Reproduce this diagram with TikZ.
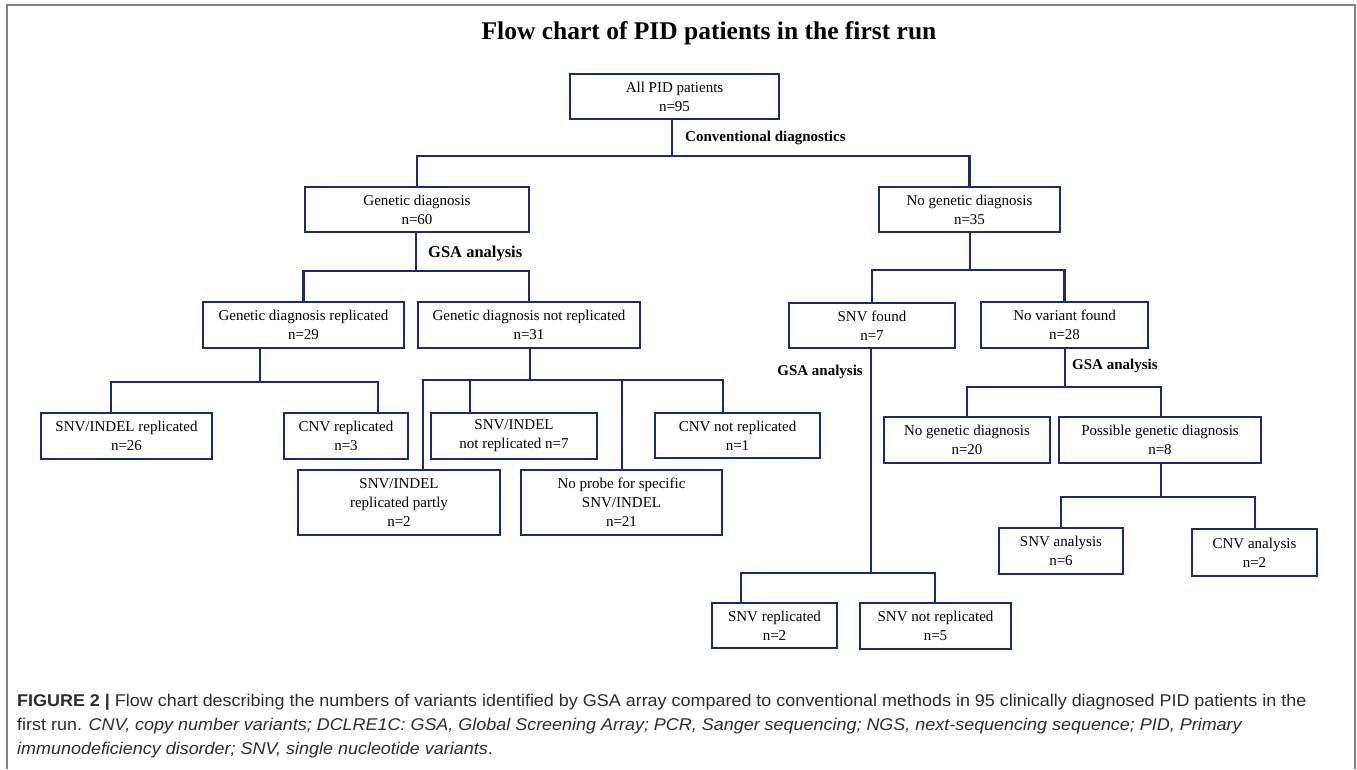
\documentclass[tikz,border=0pt]{standalone}
\usepackage{fontspec}
\setmainfont{Liberation Serif}
\newfontfamily\capfont[FakeStretch=1.056]{Liberation Sans}
\definecolor{navy}{RGB}{28,44,100}
\definecolor{framegray}{RGB}{130,130,130}
\definecolor{capgray}{RGB}{45,45,45}
\begin{document}
\begin{tikzpicture}[x=1pt,y=-1pt,
  box/.style={draw=navy, line width=2.7pt, align=center, inner sep=0pt, text=black,
    font=\fontsize{15}{19}\selectfont},
  conn/.style={draw=navy, line width=2.7pt, line join=miter},
  lbl/.style={font=\bfseries\fontsize{15}{18}\selectfont, inner sep=0pt, text=black},
  captxt/.style={anchor=base west, inner sep=0pt, text=capgray, font=\capfont\fontsize{17}{20}\selectfont}]
\useasboundingbox (0,0) rectangle (1357,769);
\fill[white] (0,0) rectangle (1357,769);
\draw[framegray, line width=1.5pt] (7,769) -- (7,5) -- (1355,5) -- (1355,769);

% title
\node[font=\bfseries\fontsize{25.5}{30}\selectfont, inner sep=0pt] (title) at (709,33) {Flow chart of PID patients in the first run};

% boxes
\node[box, minimum width=209pt, minimum height=45pt] (all) at (674.5,96.5) {All PID patients\\n=95};
\node[box, minimum width=224pt, minimum height=45pt] (gd) at (417,209.5) {Genetic diagnosis\\n=60};
\node[box, minimum width=181pt, minimum height=45pt] (ngd) at (969.5,209.5) {No genetic diagnosis\\n=35};
\node[box, minimum width=201pt, minimum height=46pt] (gdr) at (303.5,325) {Genetic diagnosis replicated\\n=29};
\node[box, minimum width=222pt, minimum height=46pt] (gdnr) at (529,325) {Genetic diagnosis not replicated\\n=31};
\node[box, minimum width=166pt, minimum height=45pt] (snvf) at (872,325.5) {SNV found\\n=7};
\node[box, minimum width=167pt, minimum height=46pt] (nvf) at (1064.5,325) {No variant found\\n=28};
\node[box, minimum width=171pt, minimum height=46pt] (sir) at (126.5,436) {SNV/INDEL replicated\\n=26};
\node[box, minimum width=124pt, minimum height=46pt] (cnvr) at (346,436) {CNV replicated\\n=3};
\node[box, minimum width=166pt, minimum height=46pt] (sinr) at (514,436) {SNV/INDEL\\not replicated n=7};
\node[box, minimum width=165pt, minimum height=45pt] (cnvnr) at (737.5,435.5) {CNV not replicated\\n=1};
\node[box, minimum width=202pt, minimum height=65pt] (sirp) at (399,502.5) {SNV/INDEL\\replicated partly\\n=2};
\node[box, minimum width=201pt, minimum height=65pt] (nop) at (621.5,502.5) {No probe for specific\\SNV/INDEL\\n=21};
\node[box, minimum width=166pt, minimum height=46pt] (ngd20) at (967,440) {No genetic diagnosis\\n=20};
\node[box, minimum width=202pt, minimum height=46pt] (pgd) at (1160,440) {Possible genetic diagnosis\\n=8};
\node[box, minimum width=124pt, minimum height=46pt] (snva) at (1061,551) {SNV analysis\\n=6};
\node[box, minimum width=125pt, minimum height=47pt] (cnva) at (1254.5,552.5) {CNV analysis\\n=2};
\node[box, minimum width=125pt, minimum height=45pt] (snvr) at (774.5,625.5) {SNV replicated\\n=2};
\node[box, minimum width=151pt, minimum height=46pt] (snvnr) at (935.5,626) {SNV not replicated\\n=5};

% labels
\node[lbl, anchor=west] (lconv) at (685,138) {Conventional diagnostics};
\node[lbl, anchor=west, font=\bfseries\fontsize{16.5}{19}\selectfont] (lgsa1) at (428,254) {GSA analysis};
\node[lbl, anchor=east] (lgsa2) at (863,372) {GSA analysis};
\node[lbl, anchor=west] (lgsa3) at (1072,366) {GSA analysis};

% connectors
\coordinate (b1) at (672,156);
\draw[conn] (all.south -| b1) -- (b1);
\draw[conn] (gd.north) -- (gd.north |- b1) -- (ngd.north |- b1) -- (ngd.north);

\coordinate (b2) at (416,271);
\draw[conn] (gd.south -| b2) -- (b2);
\draw[conn] (gdr.north) -- (gdr.north |- b2) -- (gdnr.north |- b2) -- (gdnr.north);

\coordinate (b3) at (260,382);
\coordinate (b3l) at (111,382);
\coordinate (b3r) at (378,382);
\draw[conn] (gdr.south -| b3) -- (b3);
\draw[conn] (sir.north -| b3l) -- (b3l) -- (b3r) -- (cnvr.north -| b3r);

\coordinate (b4) at (530,380);
\coordinate (b4a) at (423,380);
\coordinate (b4b) at (470,380);
\coordinate (b4c) at (622,380);
\coordinate (b4d) at (723,380);
\draw[conn] (gdnr.south -| b4) -- (b4);
\draw[conn] (sirp.north -| b4a) -- (b4a) -- (b4d) -- (cnvnr.north -| b4d);
\draw[conn] (b4b) -- (sinr.north -| b4b);
\draw[conn] (b4c) -- (nop.north -| b4c);

\coordinate (b5) at (970,270);
\draw[conn] (ngd.south -| b5) -- (b5);
\draw[conn] (snvf.north) -- (snvf.north |- b5) -- (nvf.north |- b5) -- (nvf.north);

\coordinate (b6) at (871,573);
\coordinate (b6l) at (741,573);
\coordinate (b6r) at (935,573);
\draw[conn] (snvf.south -| b6) -- (b6);
\draw[conn] (snvr.north -| b6l) -- (b6l) -- (b6r) -- (snvnr.north -| b6r);

\coordinate (b7) at (1065,387);
\coordinate (b7l) at (967,387);
\coordinate (b7r) at (1161,387);
\draw[conn] (nvf.south -| b7) -- (b7);
\draw[conn] (ngd20.north -| b7l) -- (b7l) -- (b7r) -- (pgd.north -| b7r);

\coordinate (b8) at (1161,497);
\coordinate (b8l) at (1061,497);
\coordinate (b8r) at (1255,497);
\draw[conn] (pgd.south -| b8) -- (b8);
\draw[conn] (snva.north -| b8l) -- (b8l) -- (b8r) -- (cnva.north -| b8r);

% caption
\node[captxt] (cap1) at (17,706) {\textbf{FIGURE 2 |} Flow chart describing the numbers of variants identified by GSA array compared to conventional methods in 95 clinically diagnosed PID patients in the};
\node[captxt] (cap2) at (17,730) {first run. \textit{CNV, copy number variants; DCLRE1C: GSA, Global Screening Array; PCR, Sanger sequencing; NGS, next-sequencing sequence; PID, Primary}};
\node[captxt] (cap3) at (17,754) {\textit{immunodeficiency disorder; SNV, single nucleotide variants}.};
\end{tikzpicture}
\end{document}
